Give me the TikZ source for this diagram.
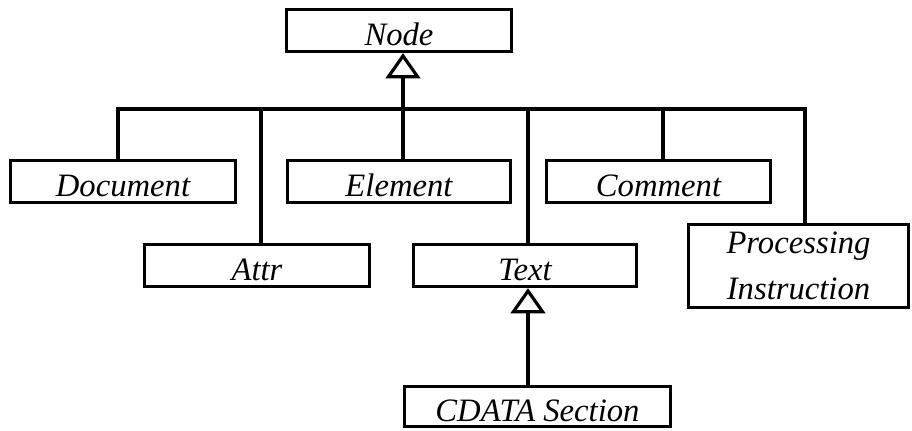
\documentclass[tikz,border=0pt]{standalone}
\usepackage{fontspec}
\setmainfont{Liberation Serif}[ItalicFont={Liberation Serif Italic}]
\usetikzlibrary{arrows.meta}
\begin{document}
\begin{tikzpicture}[x=0.75pt,y=-0.75pt,
  cls/.style={draw, line width=2.4pt, inner sep=0pt,
    font=\fontsize{24.5}{35}\selectfont\itshape,
    minimum height=31.5pt, text height=21.8pt, text depth=0pt},
  pibox/.style={draw, line width=2.4pt, inner sep=0pt,
    font=\fontsize{24.5}{35}\selectfont\itshape, align=center},
  conn/.style={line width=2.4pt},
  gen/.style={conn, -{Triangle[open, length=19pt, width=26pt]}}]
\useasboundingbox (0,0) rectangle (912,430);
\node[cls, minimum width=168.75pt] (node) at (399,30.5) {Node};
\node[cls, minimum width=168.75pt] (doc) at (123,181.5) {Document};
\node[cls, minimum width=167.25pt] (elem) at (399,181.5) {Element};
\node[cls, minimum width=168pt] (comm) at (658.5,181.5) {Comment};
\node[cls, minimum width=168.75pt] (attr) at (257,265.5) {Attr};
\node[cls, minimum width=167.25pt] (text) at (525,265.5) {Text};
\node[pibox, minimum width=165pt, minimum height=62.25pt] (pi) at (798.5,266) {Processing\\Instruction};
\node[cls, minimum width=199.5pt, minimum height=30pt] (cdata) at (537.5,406.5) {CDATA Section};
% bus
\coordinate (b1) at (118,109);
\coordinate (b2) at (261,109);
\coordinate (b3) at (403,109);
\coordinate (b4) at (528,109);
\coordinate (b5) at (663,109);
\coordinate (b6) at (805,109);
\draw[conn] (b1 |- doc.north) -- (b1) -- (b6) -- (b6 |- pi.north);
\draw[conn] (b2) -- (b2 |- attr.north);
\draw[conn] (b3) -- (b3 |- elem.north);
\draw[conn] (b4) -- (b4 |- text.north);
\draw[conn] (b5) -- (b5 |- comm.north);
\draw[gen] (b3) -- (b3 |- node.south);
\draw[gen] (b4 |- cdata.north) -- (b4 |- text.south);
\end{tikzpicture}
\end{document}
